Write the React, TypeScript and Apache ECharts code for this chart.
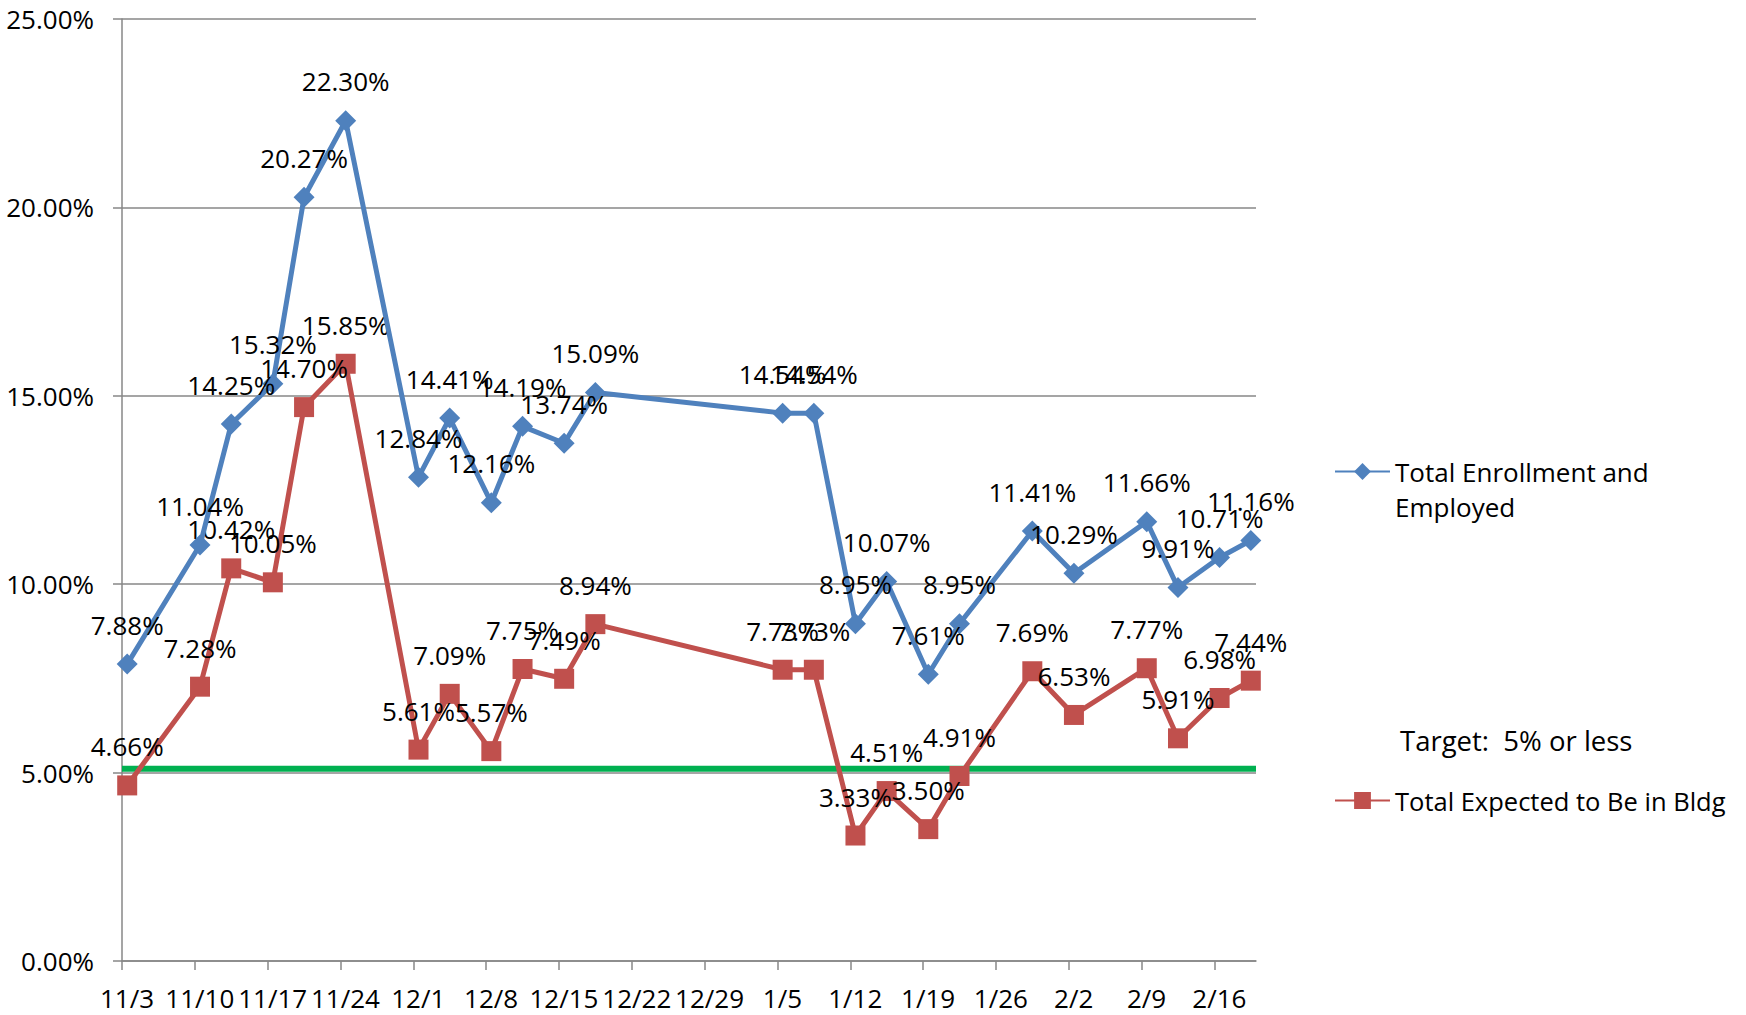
import React, { useEffect, useRef } from "react";
import * as echarts from "echarts";

// Observation dates (M/D), November through February
const dates = [
  "11/3", "11/10", "11/13", "11/17", "11/20", "11/24",
  "12/1", "12/4", "12/8", "12/11", "12/15", "12/18",
  "1/5", "1/8", "1/12", "1/15", "1/19", "1/22",
  "1/29", "2/2", "2/9", "2/12", "2/16", "2/19",
];

// Percent values
const enrollmentEmployed = [
  7.88, 11.04, 14.25, 15.32, 20.27, 22.3,
  12.84, 14.41, 12.16, 14.19, 13.74, 15.09,
  14.54, 14.54, 8.95, 10.07, 7.61, 8.95,
  11.41, 10.29, 11.66, 9.91, 10.71, 11.16,
];
const expectedInBldg = [
  4.66, 7.28, 10.42, 10.05, 14.7, 15.85,
  5.61, 7.09, 5.57, 7.75, 7.49, 8.94,
  7.73, 7.73, 3.33, 4.51, 3.5, 4.91,
  7.69, 6.53, 7.77, 5.91, 6.98, 7.44,
];

const tickLabels = [
  "11/3", "11/10", "11/17", "11/24", "12/1", "12/8", "12/15", "12/22",
  "12/29", "1/5", "1/12", "1/19", "1/26", "2/2", "2/9", "2/16",
];

const yMin = 0;
const yMax = 25;
const yStep = 5;
const targetValue = 5.1;

const SERIES_BLUE = "Total Enrollment and Employed";
const SERIES_RED = "Total Expected to Be in Bldg";

// day offset from the first date (Excel date axis, one slot per day)
function dayOf(md: string): number {
  const [m, d] = md.split("/").map(Number);
  const year = m >= 9 ? 2020 : 2021;
  const base = Date.UTC(2020, 10, 3);
  return Math.round((Date.UTC(year, m - 1, d) - base) / 86400000);
}

const FONT = "Open Sans";
const FS = 26;

export default function App() {
  const ref = useRef<HTMLDivElement>(null);

  useEffect(() => {
    if (!ref.current) return;
    const chart = echarts.init(ref.current, undefined, { renderer: "svg" });

    const xMax = dayOf(dates[dates.length - 1]) + 1;
    const tickValues = tickLabels.map(dayOf);
    const labelFor = (v: number) => {
      const i = tickValues.indexOf(Math.round(v));
      return i >= 0 ? tickLabels[i] : "";
    };

    const labelStyle = (dist: number) => ({
      show: true,
      position: "top" as const,
      distance: dist,
      color: "#000",
      fontSize: FS,
      fontFamily: FONT,
      formatter: (p: any) => p.value[1].toFixed(2) + "%",
    });

    const gray = "#878787";

    chart.setOption({
      animation: false,
      textStyle: { fontFamily: FONT },
      grid: { left: 122, right: 490, top: 19, bottom: 54, containLabel: false },
      xAxis: {
        type: "value",
        min: 0,
        max: xMax,
        interval: 7,
        axisLine: { show: true, onZero: false, lineStyle: { color: gray, width: 1.5 } },
        axisTick: { show: true, length: 9, customValues: tickValues, lineStyle: { color: gray, width: 1.5 } },
        axisLabel: {
          customValues: tickValues,
          formatter: (v: number) => labelFor(v),
          color: "#000",
          fontSize: FS,
          fontFamily: FONT,
          lineHeight: 26,
          margin: 24,
          padding: [0, 0, 0, 10],
        },
        splitLine: { show: false },
      },
      yAxis: {
        type: "value",
        min: yMin,
        max: yMax,
        interval: yStep,
        axisLine: { show: true, lineStyle: { color: gray, width: 1.5 } },
        axisTick: { show: true, length: 9, lineStyle: { color: gray, width: 1.5 } },
        axisLabel: {
          formatter: (v: number) => v.toFixed(2) + "%",
          color: "#000",
          fontSize: FS,
          fontFamily: FONT,
          margin: 28,
        },
        splitLine: { show: true, lineStyle: { color: gray, width: 1.5 } },
      },
      legend: [
        {
          data: [SERIES_BLUE],
          left: 1334,
          top: 419,
          padding: 0,
          itemWidth: 55,
          itemHeight: 21,
          selectedMode: false,
          formatter: (n: string) => "\n" + n.replace("and ", "and\n"),
          textStyle: { fontSize: FS, color: "#000", fontFamily: FONT, lineHeight: 35 },
        },
        {
          data: [SERIES_RED],
          left: 1334,
          top: 783,
          padding: 0,
          itemWidth: 55,
          itemHeight: 21,
          selectedMode: false,
          textStyle: { fontSize: 25.5, color: "#000", fontFamily: FONT, lineHeight: 35 },
        },
      ],
      graphic: [
        {
          type: "text",
          x: 1400,
          y: 740,
          style: {
            text: "Target:  5% or less",
            fontSize: 27.5,
            fontFamily: FONT,
            fill: "#000",
            textVerticalAlign: "middle",
          },
        },
      ],
      series: [
        {
          name: "Target",
          type: "line",
          data: [
            [0, targetValue],
            [xMax, targetValue],
          ],
          symbol: "none",
          lineStyle: { color: "#00b050", width: 6 },
          z: 1,
          silent: true,
        },
        {
          name: SERIES_BLUE,
          type: "line",
          data: dates.map((d, i) => [dayOf(d) + 0.5, enrollmentEmployed[i]]),
          symbol: "diamond",
          symbolSize: 21,
          lineStyle: { color: "#4f81bd", width: 5 },
          itemStyle: { color: "#4f81bd" },
          label: labelStyle(16),
          z: 3,
        },
        {
          name: SERIES_RED,
          type: "line",
          data: dates.map((d, i) => [dayOf(d) + 0.5, expectedInBldg[i]]),
          symbol: "rect",
          symbolSize: 20,
          lineStyle: { color: "#c0504d", width: 5 },
          itemStyle: { color: "#c0504d" },
          label: labelStyle(16),
          z: 2,
        },
      ],
    });

    return () => chart.dispose();
  }, []);

  return (
    <div
      ref={ref}
      style={{ position: "absolute", left: 0, top: 0, width: 1746, height: 1015, background: "#fff" }}
    />
  );
}
